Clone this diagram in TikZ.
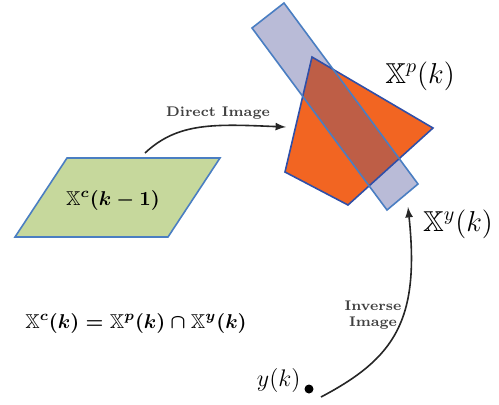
\documentclass[tikz,border=0pt]{standalone}
\usepackage{amsmath,amssymb}
\definecolor{setgreen}{HTML}{C6D89C}
\definecolor{setblue}{HTML}{4A7EC2}
\definecolor{darkblue}{HTML}{2F4FA8}
\definecolor{lavender}{HTML}{B9BBD7}
\definecolor{setorange}{HTML}{F26522}
\definecolor{overlap}{HTML}{BE5E46}
\tikzset{
  setlabel/.style={font=\Large},
  arrowlabel/.style={font=\scriptsize\bfseries, text=black!75, align=center, inner sep=1pt},
  mapping/.style={->, thick, black!85}
}
\begin{document}
\begin{tikzpicture}[>=latex, x=0.5pt, y=-0.5pt]
      \useasboundingbox (0,0) rectangle (499,404);

      % Draw the previous set
      \draw[setblue, thick, fill=setgreen] (67,158) -- (220,158) -- (168,237) -- (15,237) -- cycle;
      \node at (113,200) (prev) {$\boldsymbol{\mathbb{X}^c(k-1)}$};
      \coordinate (prevtop) at (145,153);

      % Draw the measurement strip and the predicted set
      \def\strip{(252,28) -- (284,3) -- (418,184) -- (387,210) -- cycle}
      \def\pred{(312,57) -- (433,128) -- (348,205) -- (285,172) -- cycle}
      \fill[lavender] \strip;
      \fill[setorange] \pred;
      \begin{scope}
        \clip \pred;
        \fill[overlap] \strip;
      \end{scope}
      \draw[darkblue, thick] \pred;
      \draw[setblue, thick] \strip;
      \coordinate (predleft) at (286,127);
      \coordinate (stripend) at (408,207);

      % Draw the set labels
      \node[setlabel] at (420,76) (xp) {$\mathbb{X}^p(k)$};
      \node[setlabel] at (458,224) (xy) {$\mathbb{X}^y(k)$};
      \node at (136,323) (eq) {$\boldsymbol{\mathbb{X}^c(k) = \mathbb{X}^p(k) \cap \mathbb{X}^y(k)}$};

      % Draw the measurement point
      \fill (309,389) circle (4.5) coordinate (meas);
      \node[anchor=east, inner sep=1pt, font=\large] at (303,380) (ylabel) {$y(k)$};

      % Draw the direct and inverse image arrows
      \draw[mapping] (prevtop) .. controls (178,122) and (215,124) .. (predleft);
      \node[arrowlabel] at (218,113) (direct) {Direct Image};
      \draw[mapping] ([xshift=6,yshift=-4]meas) .. controls (395,358) and (420,320) .. (stripend);
      \node[arrowlabel] at (373,315) (inverse) {Inverse\\Image};
    \end{tikzpicture}
\end{document}
